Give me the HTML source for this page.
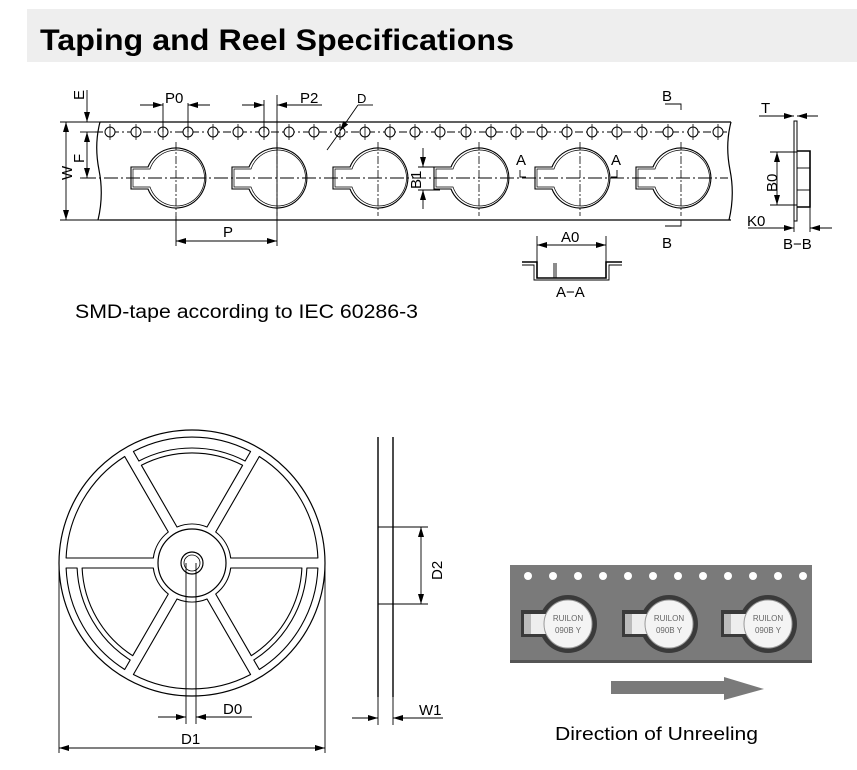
<!DOCTYPE html>
<html><head><meta charset="utf-8"><style>
body{margin:0;background:#fff;width:857px;height:770px;overflow:hidden}
svg{display:block}
text{font-family:"Liberation Sans",sans-serif}
</style></head><body>
<svg id="s" width="857" height="770" viewBox="0 0 857 770" xmlns="http://www.w3.org/2000/svg">
<defs>
<marker id="ar" viewBox="0 0 10 6" refX="10" refY="3" markerWidth="10" markerHeight="6" orient="auto-start-reverse" markerUnits="userSpaceOnUse"><path d="M0,0L10,3L0,6z" fill="#000"/></marker>
</defs>
<rect x="27" y="9" width="830" height="53" fill="#eeeeee"/>
<text x="40" y="50" font-size="30" font-weight="bold" fill="#000" textLength="474" lengthAdjust="spacingAndGlyphs">Taping and Reel Specifications</text>

<g stroke="#000" stroke-width="1.2" fill="none">
<line x1="100" y1="122" x2="731" y2="122"/>
<line x1="100" y1="220" x2="731" y2="220"/>
<path d="M100,122 Q94,145 99,170 Q104,195 98,220"/>
<path d="M731,122 Q725,145 730,170 Q735,195 729,220"/>
<line x1="95" y1="132" x2="728" y2="132" stroke-dasharray="8,3,2,3" stroke-width="0.9"/>
<line x1="82" y1="178" x2="728" y2="178" stroke-dasharray="14,3,2,3" stroke-width="0.9"/>
</g>
<g stroke="#000" stroke-width="1" fill="#fff">
<circle cx="110" cy="132" r="5"/><circle cx="136" cy="132" r="5"/><circle cx="163" cy="132" r="5"/><circle cx="188" cy="132" r="5"/><circle cx="213" cy="132" r="5"/><circle cx="238" cy="132" r="5"/><circle cx="264" cy="132" r="5"/><circle cx="289" cy="132" r="5"/><circle cx="314" cy="132" r="5"/><circle cx="340" cy="132" r="5"/><circle cx="365" cy="132" r="5"/><circle cx="390" cy="132" r="5"/><circle cx="415" cy="132" r="5"/><circle cx="440" cy="132" r="5"/><circle cx="466" cy="132" r="5"/><circle cx="491" cy="132" r="5"/><circle cx="516" cy="132" r="5"/><circle cx="542" cy="132" r="5"/><circle cx="567" cy="132" r="5"/><circle cx="592" cy="132" r="5"/><circle cx="617" cy="132" r="5"/><circle cx="642" cy="132" r="5"/><circle cx="668" cy="132" r="5"/><circle cx="693" cy="132" r="5"/><circle cx="718" cy="132" r="5"/>
</g>
<g stroke="#000" stroke-width="0.8">
<line x1="110" y1="124" x2="110" y2="140"/><line x1="136" y1="124" x2="136" y2="140"/><line x1="163" y1="124" x2="163" y2="140"/><line x1="188" y1="124" x2="188" y2="140"/><line x1="213" y1="124" x2="213" y2="140"/><line x1="238" y1="124" x2="238" y2="140"/><line x1="264" y1="124" x2="264" y2="140"/><line x1="289" y1="124" x2="289" y2="140"/><line x1="314" y1="124" x2="314" y2="140"/><line x1="340" y1="124" x2="340" y2="140"/><line x1="365" y1="124" x2="365" y2="140"/><line x1="390" y1="124" x2="390" y2="140"/><line x1="415" y1="124" x2="415" y2="140"/><line x1="440" y1="124" x2="440" y2="140"/><line x1="466" y1="124" x2="466" y2="140"/><line x1="491" y1="124" x2="491" y2="140"/><line x1="516" y1="124" x2="516" y2="140"/><line x1="542" y1="124" x2="542" y2="140"/><line x1="567" y1="124" x2="567" y2="140"/><line x1="592" y1="124" x2="592" y2="140"/><line x1="617" y1="124" x2="617" y2="140"/><line x1="642" y1="124" x2="642" y2="140"/><line x1="668" y1="124" x2="668" y2="140"/><line x1="693" y1="124" x2="693" y2="140"/><line x1="718" y1="124" x2="718" y2="140"/>
</g>
<g id="cav" stroke="#000" stroke-width="1.1" fill="none">
<path d="M148,167 L131,167 L131,189 L148,189 A30,30 0 1 0 148,167 Z"/>
<path d="M150,169 L133,169 L133,187 L150,187 A28,28 0 1 0 150,169 Z" stroke-width="0.7"/>
<line x1="176" y1="142" x2="176" y2="216" stroke-dasharray="8,2,2,2" stroke-width="0.8"/>
</g>
<use href="#cav" x="101"/><use href="#cav" x="202"/><use href="#cav" x="303"/><use href="#cav" x="404"/><use href="#cav" x="505"/>
<line x1="176" y1="216" x2="176" y2="246" stroke="#000" stroke-width="0.9"/>
<line x1="277" y1="95" x2="277" y2="246" stroke="#000" stroke-width="0.9"/>

<g stroke="#000" stroke-width="0.9" fill="none">
<line x1="60" y1="122" x2="100" y2="122"/><line x1="60" y1="220" x2="100" y2="220"/>
<line x1="66" y1="122" x2="66" y2="220" marker-start="url(#ar)" marker-end="url(#ar)"/>
<line x1="80" y1="132" x2="95" y2="132"/><line x1="80" y1="178" x2="95" y2="178"/>
<line x1="87" y1="90" x2="87" y2="122" marker-end="url(#ar)"/>
<line x1="87" y1="132" x2="87" y2="178" marker-start="url(#ar)" marker-end="url(#ar)"/>
<line x1="176" y1="241" x2="277" y2="241" marker-start="url(#ar)" marker-end="url(#ar)"/>
<line x1="163" y1="103" x2="163" y2="132"/><line x1="188" y1="103" x2="188" y2="132"/>
<line x1="140" y1="105" x2="163" y2="105" marker-end="url(#ar)"/>
<line x1="210" y1="105" x2="188" y2="105" marker-end="url(#ar)"/>
<line x1="264" y1="100" x2="264" y2="132"/>
<line x1="242" y1="105" x2="264" y2="105" marker-end="url(#ar)"/>
<line x1="322" y1="105" x2="277" y2="105" marker-end="url(#ar)"/>
<line x1="373" y1="105" x2="358" y2="105"/>
<line x1="358" y1="105" x2="340" y2="131" marker-end="url(#ar)"/>
<line x1="327" y1="150" x2="340" y2="132"/>
<line x1="423" y1="148" x2="423" y2="167" marker-end="url(#ar)"/>
<line x1="423" y1="209" x2="423" y2="190" marker-end="url(#ar)"/>
<line x1="418" y1="167" x2="440" y2="167"/><line x1="418" y1="190" x2="440" y2="190"/>
<polyline points="520,170 520,177 526,177"/><polyline points="617,170 617,177 611,177"/>
<polyline points="665,104 681,104 681,110"/><polyline points="665,226 681,226 681,220"/>
<line x1="537" y1="236" x2="537" y2="262"/><line x1="606" y1="236" x2="606" y2="262"/>
<line x1="537" y1="245" x2="606" y2="245" marker-start="url(#ar)" marker-end="url(#ar)"/>
<path d="M522,262 L537,262 L537,278 L606,278 L606,262 L622,262" stroke-width="1.6"/>
<path d="M522,265 L534,265 L534,280 L609,280 L609,265 L622,265" stroke-width="0.9"/>
<line x1="554" y1="263" x2="554" y2="278"/><line x1="556" y1="263" x2="556" y2="278"/>
<rect x="794" y="121" width="3" height="100" stroke-width="1"/>
<path d="M797,151 L810,151 L810,207 L797,207" stroke-width="1.6"/>
<line x1="797" y1="168" x2="810" y2="168"/><line x1="797" y1="190" x2="810" y2="190"/>
<line x1="759" y1="116" x2="794" y2="116" marker-end="url(#ar)"/>
<line x1="818" y1="116" x2="797" y2="116" marker-end="url(#ar)"/>
<line x1="770" y1="152" x2="797" y2="152"/><line x1="770" y1="205" x2="797" y2="205"/>
<line x1="777" y1="152" x2="777" y2="205" marker-start="url(#ar)" marker-end="url(#ar)"/>
<line x1="810" y1="207" x2="810" y2="232"/><line x1="794" y1="221" x2="794" y2="232"/>
<line x1="748" y1="228" x2="794" y2="228" marker-end="url(#ar)"/>
<line x1="832" y1="228" x2="810" y2="228" marker-end="url(#ar)"/>
</g>
<g font-size="15" fill="#000">
<text x="223" y="237">P</text>
<text x="165" y="103">P0</text>
<text x="300" y="103">P2</text>
<text x="357" y="103" font-size="13">D</text>
<text x="516" y="165">A</text><text x="611" y="165">A</text>
<text x="662" y="101">B</text><text x="662" y="248">B</text>
<text x="561" y="242">A0</text>
<text x="556" y="297">A−A</text>
<text x="761" y="113">T</text>
<text x="747" y="226">K0</text>
<text x="783" y="249">B−B</text>
<text transform="translate(72,180) rotate(-90)">W</text>
<text transform="translate(84,163) rotate(-90)">F</text>
<text transform="translate(84,100) rotate(-90)">E</text>
<text transform="translate(421,189) rotate(-90)">B1</text>
<text transform="translate(777,192) rotate(-90)">B0</text>
</g>
<text x="75" y="318" font-size="19" fill="#000" textLength="343" lengthAdjust="spacingAndGlyphs">SMD-tape according to IEC 60286-3</text>

<g stroke="#000" stroke-width="1.2" fill="none">
<circle cx="192" cy="563" r="133"/>
<circle cx="192" cy="563" r="34"/>
<circle cx="192" cy="563" r="11"/>
<circle cx="192" cy="563" r="8" stroke-width="0.8"/>
</g>
<g id="reelwin" stroke="#000" stroke-width="1.1" fill="none" stroke-linejoin="round"></g>
<script>
(function(){
var cx=192,cy=563,g=document.getElementById('reelwin');
function P(r,a){return (cx+r*Math.cos(a)).toFixed(1)+','+(cy-r*Math.sin(a)).toFixed(1);}
function win(ri,ro,a1,a2,w){
 a1=a1*Math.PI/180;a2=a2*Math.PI/180;
 var di=Math.asin(w/ri),dO=Math.asin(w/ro);
 var d='M'+P(ri,a1+di)+' L'+P(ro,a1+dO)+' A'+ro+','+ro+' 0 0 0 '+P(ro,a2-dO)+' L'+P(ri,a2-di)+' A'+ri+','+ri+' 0 0 1 '+P(ri,a1+di)+' Z';
 var p=document.createElementNS('http://www.w3.org/2000/svg','path');p.setAttribute('d',d);g.appendChild(p);
}
for(var k=0;k<6;k++){
 var a1=k*60,a2=a1+60;
 if(k%2==1){win(39,110,a1,a2,5);win(115,126,a1,a2,5);}
 else{win(39,126,a1,a2,5);}
}
})();
</script>
<g stroke="#000" stroke-width="0.9" fill="none">
<line x1="186" y1="563" x2="186" y2="724"/><line x1="196" y1="563" x2="196" y2="724"/>
<line x1="158" y1="717" x2="186" y2="717" marker-end="url(#ar)"/>
<line x1="252" y1="717" x2="196" y2="717" marker-end="url(#ar)"/>
<line x1="59" y1="563" x2="59" y2="753"/><line x1="325" y1="563" x2="325" y2="753"/>
<line x1="59" y1="748" x2="325" y2="748" marker-start="url(#ar)" marker-end="url(#ar)"/>
<line x1="378" y1="437" x2="378" y2="697" stroke-width="1.4"/>
<line x1="393" y1="437" x2="393" y2="697" stroke-width="1.4"/>
<line x1="378" y1="527" x2="428" y2="527"/><line x1="378" y1="604" x2="428" y2="604"/>
<line x1="421" y1="527" x2="421" y2="604" marker-start="url(#ar)" marker-end="url(#ar)"/>
<line x1="378" y1="697" x2="378" y2="725"/><line x1="393" y1="697" x2="393" y2="725"/>
<line x1="352" y1="718" x2="378" y2="718" marker-end="url(#ar)"/>
<line x1="443" y1="718" x2="393" y2="718" marker-end="url(#ar)"/>
</g>
<g font-size="15" fill="#000">
<text x="223" y="714">D0</text>
<text x="181" y="744">D1</text>
<text x="419" y="715">W1</text>
<text transform="translate(442,580) rotate(-90)">D2</text>
</g>

<rect x="510" y="565" width="302" height="98" fill="#7a7a7a"/>
<rect x="510" y="660" width="302" height="3" fill="#555"/>
<g fill="#fff">
<circle cx="528" cy="576" r="4"/><circle cx="553" cy="576" r="4"/><circle cx="578" cy="576" r="4"/><circle cx="603" cy="576" r="4"/><circle cx="628" cy="576" r="4"/><circle cx="653" cy="576" r="4"/><circle cx="678" cy="576" r="4"/><circle cx="703" cy="576" r="4"/><circle cx="728" cy="576" r="4"/><circle cx="753" cy="576" r="4"/><circle cx="778" cy="576" r="4"/><circle cx="803" cy="576" r="4"/>
</g>
<g id="cell">
<circle cx="568" cy="624" r="29" fill="#3a3a3a"/>
<rect x="521" y="610" width="30" height="27" fill="#3a3a3a"/>
<rect x="524" y="614" width="28" height="20" fill="#eee"/>
<rect x="524" y="614" width="7" height="20" fill="#bbb"/>
<circle cx="568" cy="624" r="24" fill="#f4f4f4" stroke="#999"/>
<text x="568" y="621" font-size="8" fill="#666" text-anchor="middle">RUILON</text>
<text x="568" y="633" font-size="8" fill="#666" text-anchor="middle">090B  Y</text>
</g>
<use href="#cell" x="101"/><use href="#cell" x="200"/>
<rect x="611" y="681" width="115" height="13" fill="#7a7a7a"/>
<path d="M724,677 L764,689 L724,700 Z" fill="#7a7a7a"/>
<text x="555" y="740" font-size="18" fill="#000" textLength="203" lengthAdjust="spacingAndGlyphs">Direction of Unreeling</text>
</svg>
</body></html>
